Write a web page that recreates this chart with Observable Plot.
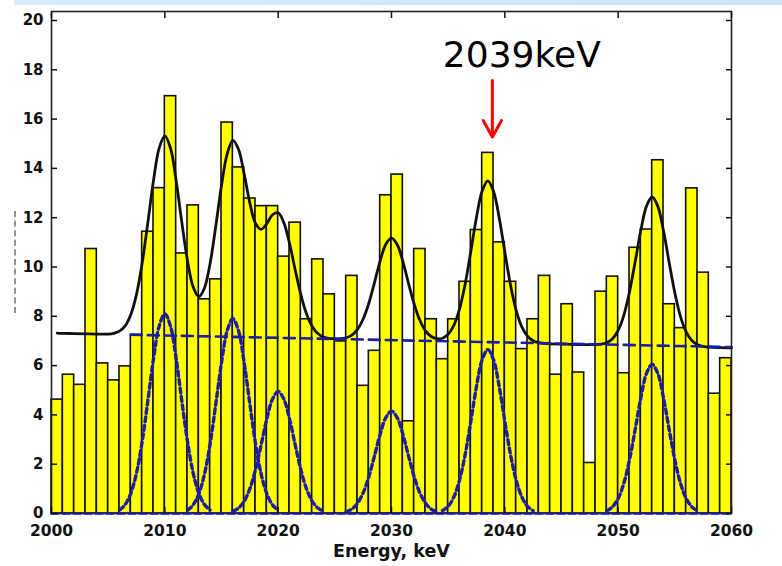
<!DOCTYPE html>
<html>
<head>
<meta charset="utf-8">
<script src="https://cdn.jsdelivr.net/npm/d3@7"></script>
<script src="https://cdn.jsdelivr.net/npm/@observablehq/plot@0.6"></script>
<style>
  html, body { margin: 0; padding: 0; background: #fff; }
  #wrap { position: relative; width: 782px; height: 566px; overflow: hidden; }
  #band { position: absolute; top: 0; left: 14px; width: 768px; height: 5px;
          background: linear-gradient(to right, #d9edf9, #cde5f5); }
  #mark { position: absolute; left: 14px; top: 211px; height: 102px; border-left: 2px dashed #666; opacity: 0.7; }
</style>
</head>
<body>
<div id="wrap"><div id="band"></div><div id="mark"></div></div>
<script>
// ---- data ----
const binStart = [2000,2001,2002,2003,2004,2005,2006,2007,2008,2009,
                  2010,2011,2012,2013,2014,2015,2016,2017,2018,2019,
                  2020,2021,2022,2023,2024,2025,2026,2027,2028,2029,
                  2030,2031,2032,2033,2034,2035,2036,2037,2038,2039,
                  2040,2041,2042,2043,2044,2045,2046,2047,2048,2049,
                  2050,2051,2052,2053,2054,2055,2056,2057,2058,2059];
const counts = [4.62,5.63,5.22,10.73,6.09,5.40,5.97,7.25,11.43,13.2,
                16.93,10.55,12.5,8.69,9.5,15.86,14.04,12.78,12.47,12.47,
                10.42,11.8,7.88,10.31,8.89,6.98,9.64,5.18,6.6,12.91,
                13.75,3.74,10.73,7.88,6.26,7.88,9.4,11.5,14.63,11.0,
                9.4,6.67,7.88,9.64,5.63,8.49,5.72,2.05,9.0,9.61,
                5.69,10.78,11.52,14.33,8.49,7.52,13.19,9.77,4.86,6.3];
const binWidth = 1;

// total fit (black curve)
const fitCurve = [[2000.5,7.32],[2001,7.31],[2002,7.30],[2003,7.29],[2004,7.28],[2005,7.28],[2005.5,7.31],
 [2006,7.40],[2006.5,7.61],[2007,8.07],[2007.5,8.89],[2008,10.16],[2008.5,11.80],[2009,13.51],[2009.5,14.82],
 [2010,15.32],[2010.5,14.82],[2011,13.50],[2011.5,11.81],[2012,10.25],[2012.5,9.19],[2013,8.80],[2013.5,9.15],
 [2014,10.16],[2014.5,11.67],[2015,13.31],[2015.5,14.58],[2016,15.14],[2016.5,14.78],[2017,13.77],[2017.5,12.60],
 [2018,11.77],[2018.5,11.53],[2019,11.76],[2019.5,12.12],[2020,12.20],[2020.5,11.80],[2021,10.96],[2021.5,9.89],
 [2022,8.88],[2022.5,8.10],[2023,7.59],[2023.5,7.30],[2024,7.16],[2024.5,7.10],[2025,7.09],[2025.5,7.09],
 [2026,7.13],[2026.5,7.24],[2027,7.47],[2027.5,7.89],[2028,8.53],[2028.5,9.37],[2029,10.25],[2029.5,10.92],
 [2030,11.17],[2030.5,10.91],[2031,10.23],[2031.5,9.34],[2032,8.49],[2032.5,7.84],[2033,7.41],[2033.5,7.18],
 [2034,7.09],[2034.5,7.11],[2035,7.27],[2035.5,7.63],[2036,8.29],[2036.5,9.31],[2037,10.64],[2037.5,12.02],
 [2038,13.08],[2038.5,13.49],[2039,13.07],[2039.5,12.00],[2040,10.61],[2040.5,9.27],[2041,8.24],[2041.5,7.57],
 [2042,7.19],[2042.5,7.01],[2043,6.93],[2043.5,6.90],[2044,6.88],[2045,6.87],[2046,6.86],[2047,6.85],
 [2048,6.85],[2048.5,6.87],[2049,6.93],[2049.5,7.09],[2050,7.43],[2050.5,8.04],[2051,8.99],[2051.5,10.21],
 [2052,11.49],[2052.5,12.47],[2053,12.84],[2053.5,12.46],[2054,11.47],[2054.5,10.18],[2055,8.95],[2055.5,7.99],
 [2056,7.37],[2056.5,7.02],[2057,6.85],[2057.5,6.78],[2058,6.75],[2059,6.73],[2060,6.72]];

// background component (blue dashed)
const background = [[2007,7.25],[2060,6.75]];
const zeroLine = [[2000,0],[2060,0]];

// individual peak components (blue dotted)
const peak1 = [[2006,0.14],[2006.5,0.36],[2007,0.82],[2007.5,1.64],[2008,2.92],[2008.5,4.56],[2009,6.28],[2009.5,7.60],[2010,8.10],
               [2010.5,7.60],[2011,6.28],[2011.5,4.56],[2012,2.92],[2012.5,1.64],[2013,0.82],[2013.5,0.36],[2014,0.14]];
const peak2 = [[2012,0.13],[2012.5,0.35],[2013,0.80],[2013.5,1.60],[2014,2.84],[2014.5,4.45],[2015,6.12],[2015.5,7.41],[2016,7.90],
               [2016.5,7.41],[2017,6.12],[2017.5,4.45],[2018,2.84],[2018.5,1.60],[2019,0.80],[2019.5,0.35],[2020,0.13]];
const peak3 = [[2016,0.08],[2016.5,0.22],[2017,0.50],[2017.5,1.00],[2018,1.78],[2018.5,2.79],[2019,3.84],[2019.5,4.64],[2020,4.95],
               [2020.5,4.64],[2021,3.84],[2021.5,2.79],[2022,1.78],[2022.5,1.00],[2023,0.50],[2023.5,0.22],[2024,0.08]];
const peak4 = [[2026,0.07],[2026.5,0.18],[2027,0.42],[2027.5,0.84],[2028,1.49],[2028.5,2.34],[2029,3.22],[2029.5,3.89],[2030,4.15],
               [2030.5,3.89],[2031,3.22],[2031.5,2.34],[2032,1.49],[2032.5,0.84],[2033,0.42],[2033.5,0.18],[2034,0.07]];
const peak5 = [[2034.5,0.11],[2035,0.29],[2035.5,0.67],[2036,1.35],[2036.5,2.39],[2037,3.74],[2037.5,5.15],[2038,6.24],[2038.5,6.65],
               [2039,6.24],[2039.5,5.15],[2040,3.74],[2040.5,2.39],[2041,1.35],[2041.5,0.67],[2042,0.29],[2042.5,0.11]];
const peak6 = [[2049,0.10],[2049.5,0.27],[2050,0.61],[2050.5,1.23],[2051,2.18],[2051.5,3.41],[2052,4.69],[2052.5,5.68],[2053,6.05],
               [2053.5,5.68],[2054,4.69],[2054.5,3.41],[2055,2.18],[2055.5,1.23],[2056,0.61],[2056.5,0.27],[2057,0.10]];
const peaks = [peak1, peak2, peak3, peak4, peak5, peak6];

const xTicks = [2000,2010,2020,2030,2040,2050,2060];
const yTicks = [0,2,4,6,8,10,12,14,16,18,20];
const xLabel = "Energy, keV";
const annotLabel = "2039keV";
const annotEnergy = 2038.9;

// ---- chart ----
const bars = binStart.map((e, i) => ({lo: e, hi: e + binWidth, n: counts[i]}));
const xTickFont = {fontSize: 15.5, fontWeight: "bold", fontFamily: "DejaVu Sans"};
const yTickFont = {fontSize: 15, fontWeight: "bold", fontFamily: "DejaVu Sans"};
const blue = "#1c1caa";

const chart = Plot.plot({
  width: 782,
  height: 566,
  marginLeft: 51,
  marginRight: 51,
  marginTop: 11,
  marginBottom: 53,
  style: {background: "transparent", overflow: "visible", color: "#111"},
  x: {domain: [2000, 2060]},
  y: {domain: [0, 20.365]},
  marks: [
    Plot.rectY(bars, {x1: "lo", x2: "hi", y: "n", fill: "#ffff00", stroke: "#111", strokeWidth: 1.6}),
    Plot.line(fitCurve, {stroke: "#111", strokeWidth: 2.8, curve: "catmull-rom"}),
    ...peaks.map(p => Plot.line(p, {stroke: blue, strokeWidth: 3.4, strokeDasharray: "5,3.5", curve: "catmull-rom"})),
    Plot.line(background, {stroke: blue, strokeWidth: 2.6, strokeDasharray: "11,6"}),
    Plot.frame({stroke: "#222", strokeWidth: 1.6}),
    Plot.line(zeroLine, {stroke: blue, strokeWidth: 2.6, strokeDasharray: "7,4"}),
    Plot.axisX(xTicks, {anchor: "bottom", tickSize: 0, tickPadding: 11, label: null, tickFormat: d => String(d), ...xTickFont}),
    Plot.axisX(xTicks, {anchor: "bottom", tickSize: -6, tickFormat: () => "", label: null, strokeWidth: 1.5}),
    Plot.axisX(xTicks, {anchor: "top", tickSize: -6, tickFormat: () => "", label: null, strokeWidth: 1.5}),
    Plot.axisY(yTicks, {anchor: "left", tickSize: 0, tickPadding: 8, label: null, ...yTickFont}),
    Plot.axisY(yTicks, {anchor: "left", tickSize: -6, tickFormat: () => "", label: null, strokeWidth: 1.5}),
    Plot.axisY(yTicks, {anchor: "right", tickSize: -6, tickFormat: () => "", label: null, strokeWidth: 1.5}),
    Plot.text([xLabel], {frameAnchor: "bottom", dy: 43, fontSize: 17.5, fontWeight: "bold", fontFamily: "DejaVu Sans", fill: "#111"}),
    Plot.text([annotLabel], {x: 2041.5, y: 18.57, text: d => d, fontSize: 36, fontFamily: "DejaVu Sans", fill: "#000", lineAnchor: "middle"}),
    Plot.arrow([annotLabel], {x1: annotEnergy, x2: annotEnergy, y1: 17.57, y2: 15.27, stroke: "#ff0000", strokeWidth: 3, headLength: 20, headAngle: 58})
  ]
});
document.getElementById("wrap").appendChild(chart);
chart.style.position = "absolute";
chart.style.left = "0";
chart.style.top = "0";
</script>
</body>
</html>
